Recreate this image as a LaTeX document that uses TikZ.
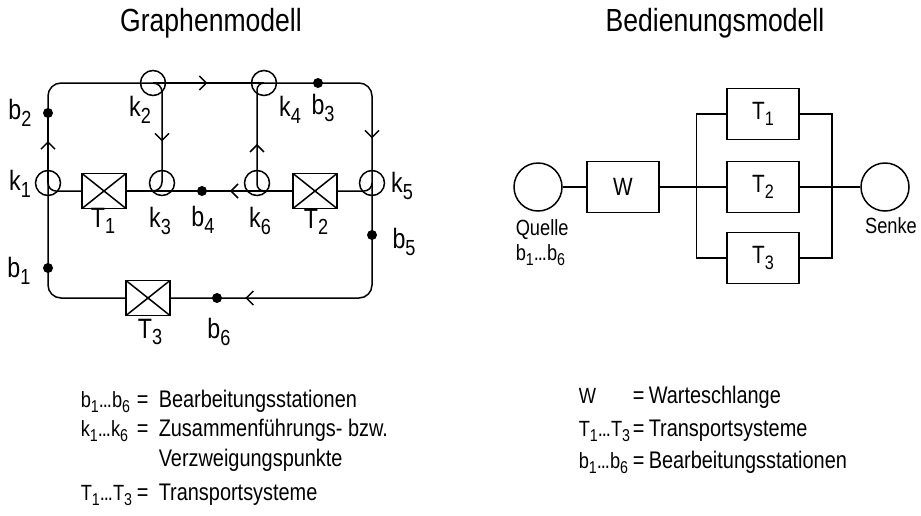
\documentclass[tikz,border=0pt]{standalone}
\usepackage{fontspec}
\setmainfont[FakeStretch=0.83]{Liberation Sans}
\usepackage{tikz}
\usetikzlibrary{arrows.meta,positioning,decorations.markings}

\newcommand{\ix}[2]{#1\raisebox{-0.45ex}{\scalebox{0.78}{#2}}}
\newcommand{\dd}{.\kern-1pt.\kern-1pt.}

\begin{document}
\begin{tikzpicture}[
  x=1pt, y=-1pt, line width=1.5pt,
  junc/.style={draw, circle, minimum size=25pt, inner sep=0pt},
  dot/.style={circle, fill, minimum size=10pt, inner sep=0pt},
  tbox/.style={draw, fill=white, minimum width=44pt, minimum height=35pt, inner sep=0pt,
    path picture={\draw (path picture bounding box.south west) -- (path picture bounding box.north east)
      (path picture bounding box.north west) -- (path picture bounding box.south east);}},
  qbox/.style={draw, fill=white, minimum width=72pt, minimum height=51pt, inner sep=0pt, font=\fontsize{25}{27}\selectfont},
  lbl/.style={inner sep=0pt, font=\fontsize{28}{30}\selectfont},
  title/.style={inner sep=0pt, anchor=base, font=\fontsize{32}{34}\selectfont},
  txt/.style={inner sep=0pt, anchor=base west, font=\fontsize{24}{26}\selectfont},
  lhs/.style={txt, font=\fontsize{22}{24}\selectfont},
  mid/.style={postaction={decorate, decoration={markings,
    mark=at position #1 with {\arrow{Straight Barb[length=7pt,width=14pt]}}}}}
]
\useasboundingbox (0,0) rectangle (921,515);
\node[title] (gtitle) at (211,31) {Graphenmodell};
\node[title] (btitle) at (715,31) {Bedienungsmodell};

\node[junc] (k1) at (48,183) {};
\node[junc] (k2) at (153,83) {};
\node[junc] (k3) at (162,183) {};
\node[junc] (k4) at (264,83) {};
\node[junc] (k5) at (372,183) {};
\node[junc] (k6) at (257,183) {};
\node[dot] (b1) at (48,268) {};
\node[dot] (b2) at (48,113) {};
\node[dot] (b3) at (318,83) {};
\node[dot] (b4) at (202,191) {};
\node[dot] (b5) at (372,235) {};
\node[dot] (b6) at (217,298) {};
\node[tbox] (T1) at (104,191) {};
\node[tbox] (T2) at (315,191) {};
\node[tbox] (T3) at (148,298) {};

\draw[rounded corners=13pt] (T3.west) -| (k1.center);
\draw[mid=.6] (k1.center) -- (b2.center);
\draw[rounded corners=13pt] (b2.center) |- (k2.center);
\draw[mid=.49] (k2.center) -- (k4.center);
\draw[rounded corners=13pt, mid=.78] (k4.center) -| (k5.center);
\draw[rounded corners=13pt, mid=.76] (k5.center) |- (T3.east);
\draw[rounded corners=8pt] (k1.center) |- (T1.west);
\draw (T1.east) -- (b4.center);
\draw[mid=.69] (T2.west) -- (b4.center);
\draw[rounded corners=8pt] (T2.east) -| (k5.center);
\draw[rounded corners=9pt, mid=.44] (k2.center) -| (k3 |- b4) -- (T1.east);
\draw[rounded corners=7pt, mid=.55] (T2.west) -| (k6 |- k4) -- (k4.center);

\node[lbl] (lb1) at (19,271) {\ix{b}{1}};
\node[lbl] (lb2) at (20,113) {\ix{b}{2}};
\node[lbl] (lb3) at (323,108) {\ix{b}{3}};
\node[lbl] (lb4) at (203,220) {\ix{b}{4}};
\node[lbl] (lb5) at (404,242) {\ix{b}{5}};
\node[lbl] (lb6) at (219,332) {\ix{b}{6}};
\node[lbl] (lk1) at (20,184) {\ix{k}{1}};
\node[lbl] (lk2) at (140,110) {\ix{k}{2}};
\node[lbl] (lk3) at (160,221) {\ix{k}{3}};
\node[lbl] (lk4) at (290,110) {\ix{k}{4}};
\node[lbl] (lk5) at (402,186) {\ix{k}{5}};
\node[lbl] (lk6) at (260,221) {\ix{k}{6}};
\node[lbl] (lT1) at (103,221) {\ix{T}{1}};
\node[lbl] (lT2) at (316,222) {\ix{T}{2}};
\node[lbl] (lT3) at (150,332) {\ix{T}{3}};

\node[junc, minimum size=48pt] (quelle) at (538,187) {};
\node[qbox] (W) at (623,187) {W};
\node[qbox] (t1) at (763,114) {\ix{T}{1}};
\node[qbox] (t2) at (763,187) {\ix{T}{2}};
\node[qbox] (t3) at (763,258) {\ix{T}{3}};
\node[junc, minimum size=48pt] (senke) at (885,187) {};
\draw (quelle) -- (W);
\draw (W) -- (t2);
\draw (t2) -- (senke);
\draw (t1.west) -- ++(-30,0) |- (t3.west);
\draw (t1.east) -- ++(32,0) |- (t3.east);
\node[inner sep=0pt, anchor=north west, align=left, font=\fontsize{22}{25}\selectfont] (lquelle) at (515,219) {Quelle\\\ix{b}{1}\dd\ix{b}{6}};
\node[inner sep=0pt, font=\fontsize{22}{25}\selectfont] (lsenke) at (891,226) {Senke};

\node[lhs] (g1) at (80,407) {\ix{b}{1}\dd\ix{b}{6}};
\node[txt] (g1e) at (136,407) {=};
\node[txt] (g1t) at (158,407) {Bearbeitungsstationen};
\node[lhs] (g2) at (80,436) {\ix{k}{1}\dd\ix{k}{6}};
\node[txt] (g2e) at (136,436) {=};
\node[txt] (g2t) at (158,436) {Zusammenführungs- bzw.};
\node[txt] (g3t) at (158,466) {Verzweigungspunkte};
\node[lhs] (g4) at (80,500) {\ix{T}{1}\dd\ix{T}{3}};
\node[txt] (g4e) at (136,500) {=};
\node[txt] (g4t) at (158,500) {Transportsysteme};

\node[lhs] (r1) at (578,403) {W};
\node[txt] (r1e) at (632,403) {=};
\node[txt] (r1t) at (648,403) {Warteschlange};
\node[lhs] (r2) at (578,436) {\ix{T}{1}\dd\ix{T}{3}};
\node[txt] (r2e) at (632,436) {=};
\node[txt] (r2t) at (648,436) {Transportsysteme};
\node[lhs] (r3) at (578,468) {\ix{b}{1}\dd\ix{b}{6}};
\node[txt] (r3e) at (632,468) {=};
\node[txt] (r3t) at (648,468) {Bearbeitungsstationen};
\end{tikzpicture}
\end{document}
